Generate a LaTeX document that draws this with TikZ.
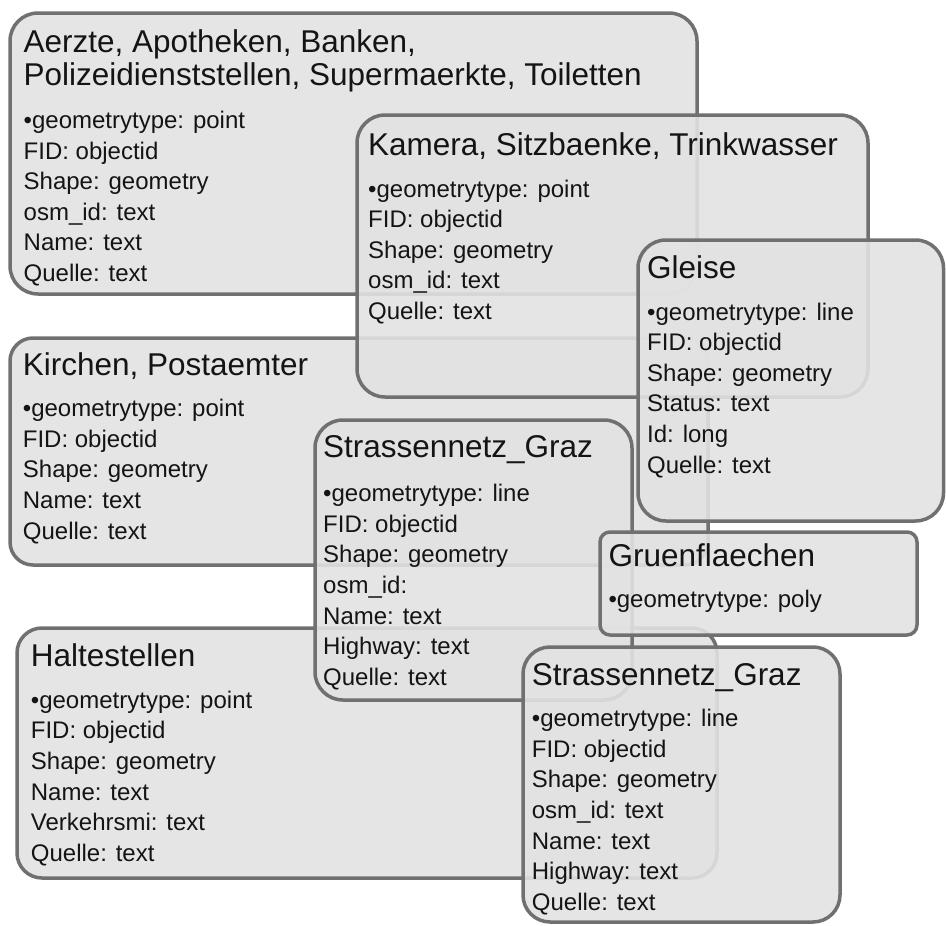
\documentclass[tikz,border=0pt]{standalone}
\usepackage{fontspec}
\setmainfont{Liberation Sans}
\definecolor{boxfill}{RGB}{226,226,226}
\definecolor{boxline}{RGB}{112,112,112}
\definecolor{txt}{RGB}{20,20,20}
\newcommand{\ttlfont}{\fontsize{31.5}{33}\selectfont}
\newcommand{\itmfont}{\fontsize{24}{30}\selectfont}
\begin{document}
\begin{tikzpicture}[x=1pt,y=-1pt,
  tbox/.style={draw=boxline, line width=3.5pt, fill=boxfill, fill opacity=0.9,
    rounded corners=#1, inner sep=0pt, outer sep=0pt, anchor=north west},
  ttl/.style={anchor=base west, inner sep=0pt, font=\ttlfont, text=txt},
  itm/.style={anchor=base west, inner sep=0pt, font=\itmfont, text=txt}]
\useasboundingbox (0,0) rectangle (946,926);
% Aerzte
\node[tbox=28pt, minimum width=687pt, minimum height=281pt] (bA) at (10,13) {};
\node[ttl] (tA1) at (23.5,52) {Aerzte, Apotheken, Banken,};
\node[ttl] (tA2) at (23.5,85) {Polizeidienststellen, Supermaerkte, Toiletten};
\node[itm] (a1) at (23.5,128.5) {•geometrytype: point};
\node[itm] (a2) at (23.5,159) {FID: objectid};
\node[itm] (a3) at (23.5,189.5) {Shape: geometry};
\node[itm] (a4) at (23.5,220) {osm\_id: text};
\node[itm] (a5) at (23.5,250.5) {Name: text};
\node[itm] (a6) at (23.5,281) {Quelle: text};
% Kirchen
\node[tbox=23pt, minimum width=698pt, minimum height=227pt] (bKi) at (10,338) {};
\node[ttl] (tKi) at (22.7,375) {Kirchen, Postaemter};
\node[itm] (k1) at (22.7,416.7) {•geometrytype: point};
\node[itm] (k2) at (22.7,447.3) {FID: objectid};
\node[itm] (k3) at (22.7,477.9) {Shape: geometry};
\node[itm] (k4) at (22.7,508.5) {Name: text};
\node[itm] (k5) at (22.7,539.1) {Quelle: text};
% Kamera
\node[tbox=28pt, minimum width=511pt, minimum height=282pt] (bK) at (357,115) {};
\node[ttl] (tK) at (368,155) {Kamera, Sitzbaenke, Trinkwasser};
\node[itm] (m1) at (368,197) {•geometrytype: point};
\node[itm] (m2) at (368,227.6) {FID: objectid};
\node[itm] (m3) at (368,258.2) {Shape: geometry};
\node[itm] (m4) at (368,288.8) {osm\_id: text};
\node[itm] (m5) at (368,319.4) {Quelle: text};
% Gleise
\node[tbox=28pt, minimum width=305.5pt, minimum height=281pt] (bG) at (638,240) {};
\node[ttl] (tG) at (647,278) {Gleise};
\node[itm] (g1) at (647,320) {•geometrytype: line};
\node[itm] (g2) at (647,350.6) {FID: objectid};
\node[itm] (g3) at (647,381.2) {Shape: geometry};
\node[itm] (g4) at (647,411.8) {Status: text};
\node[itm] (g5) at (647,442.4) {Id: long};
\node[itm] (g6) at (647,473) {Quelle: text};
% Haltestellen
\node[tbox=25pt, minimum width=700pt, minimum height=250pt] (bH) at (17,628) {};
\node[ttl] (tH) at (30.7,666.7) {Haltestellen};
\node[itm] (h1) at (30.7,708.3) {•geometrytype: point};
\node[itm] (h2) at (30.7,738.9) {FID: objectid};
\node[itm] (h3) at (30.7,769.5) {Shape: geometry};
\node[itm] (h4) at (30.7,800.1) {Name: text};
\node[itm] (h5) at (30.7,830.7) {Verkehrsmi: text};
\node[itm] (h6) at (30.7,861.3) {Quelle: text};
% Strassennetz 1
\node[tbox=28pt, minimum width=317pt, minimum height=280pt] (bS1) at (315,420) {};
\node[ttl] (tS1) at (323,457.3) {Strassennetz\_Graz};
\node[itm] (s1) at (323,501.7) {•geometrytype: line};
\node[itm] (s2) at (323,532.3) {FID: objectid};
\node[itm] (s3) at (323,562.9) {Shape: geometry};
\node[itm] (s4) at (323,593.5) {osm\_id:};
\node[itm] (s5) at (323,624.1) {Name: text};
\node[itm] (s6) at (323,654.7) {Highway: text};
\node[itm] (s7) at (323,685.3) {Quelle: text};
% Gruenflaechen
\node[tbox=10pt, minimum width=317pt, minimum height=103pt] (bGr) at (600,532) {};
\node[ttl] (tGr) at (608.3,566) {Gruenflaechen};
\node[itm] (r1) at (608.3,607.3) {•geometrytype: poly};
% Strassennetz 2
\node[tbox=27pt, minimum width=317pt, minimum height=275pt] (bS2) at (523,647) {};
\node[ttl] (tS2) at (531.7,685) {Strassennetz\_Graz};
\node[itm] (t1) at (531.7,726.7) {•geometrytype: line};
\node[itm] (t2) at (531.7,757.3) {FID: objectid};
\node[itm] (t3) at (531.7,787.9) {Shape: geometry};
\node[itm] (t4) at (531.7,818.5) {osm\_id: text};
\node[itm] (t5) at (531.7,849.1) {Name: text};
\node[itm] (t6) at (531.7,879.7) {Highway: text};
\node[itm] (t7) at (531.7,910.3) {Quelle: text};
\end{tikzpicture}
\end{document}
